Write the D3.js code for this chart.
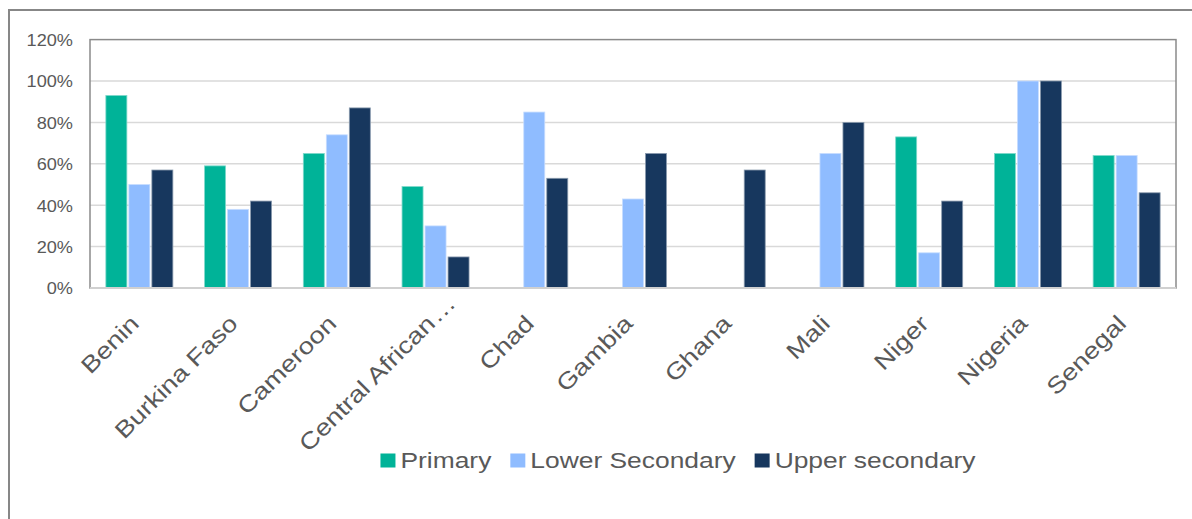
<!DOCTYPE html>
<html>
<head>
<meta charset="utf-8">
<script src="https://cdn.jsdelivr.net/npm/d3@7"></script>
<style>
  html, body { margin: 0; padding: 0; background: #ffffff; }
  svg { display: block; }
  text { font-family: "Liberation Sans", Arial, sans-serif; fill: #595959; }
</style>
</head>
<body>
<svg id="chart" width="1192" height="519"></svg>
<script>
// ---- data ----
const categories = ["Benin", "Burkina Faso", "Cameroon", "Central African…", "Chad", "Gambia", "Ghana", "Mali", "Niger", "Nigeria", "Senegal"];
const seriesNames = ["Primary", "Lower Secondary", "Upper secondary"];
const primary        = [93, 59, 65, 49, null, null, null, null, 73, 65, 64];
const lowerSecondary = [50, 38, 74, 30, 85, 43, null, 65, 17, 100, 64];
const upperSecondary = [57, 42, 87, 15, 53, 65, 57, 80, 42, 100, 46];
const yTicks = [0, 20, 40, 60, 80, 100, 120];
const colors = ["#00b398", "#8fbcff", "#17375e"];
const strokes = ["#7fd9cb", "#c7ddff", "#8b9bae"];

const seriesValues = [primary, lowerSecondary, upperSecondary];
const table = categories.map((c, i) => ({
  category: c,
  values: seriesNames.map((s, j) => ({ series: s, idx: j, value: seriesValues[j][i] }))
}));

const svg = d3.select("#chart");

// outer chart border
svg.append("rect").attr("x", 9).attr("y", 10).attr("width", 1200).attr("height", 520)
  .attr("fill", "none").attr("stroke", "#878787").attr("stroke-width", 2);

const plot = { left: 90, right: 1176, top: 39.6, bottom: 288 };

const y = d3.scaleLinear().domain([0, 120]).range([plot.bottom, plot.top]);
const x0 = d3.scaleBand().domain(categories).range([plot.left, plot.right]).padding(0);
const groupW = 67;
const x1 = d3.scaleBand().domain(seriesNames)
  .range([x0.bandwidth() / 2 - groupW / 2, x0.bandwidth() / 2 + groupW / 2])
  .paddingInner(2 / 23).paddingOuter(0);

// gridlines
svg.append("g").selectAll("line").data(yTicks.filter(t => t > 0 && t < 120)).join("line")
  .attr("x1", plot.left).attr("x2", plot.right)
  .attr("y1", d => y(d)).attr("y2", d => y(d))
  .attr("stroke", "#d9d9d9").attr("stroke-width", 1.5);

// plot frame
svg.append("rect").attr("x", plot.left).attr("y", plot.top)
  .attr("width", plot.right - plot.left).attr("height", plot.bottom - plot.top)
  .attr("fill", "none").attr("stroke", "#8a8a8a").attr("stroke-width", 1.5);

// bars
const groups = svg.append("g").selectAll("g").data(table).join("g")
  .attr("transform", d => `translate(${x0(d.category)},0)`);
groups.selectAll("rect").data(d => d.values.filter(v => v.value !== null)).join("rect")
  .attr("x", d => x1(d.series))
  .attr("width", x1.bandwidth())
  .attr("y", d => y(d.value))
  .attr("height", d => y(0) - y(d.value))
  .attr("fill", d => colors[d.idx])
  .attr("stroke", d => strokes[d.idx]).attr("stroke-width", 0.8);

// baseline
svg.append("line").attr("x1", plot.left).attr("x2", plot.right)
  .attr("y1", y(0)).attr("y2", y(0)).attr("stroke", "#d0d0d0").attr("stroke-width", 2);

// y axis labels
const yAxis = d3.axisLeft(y).tickValues(yTicks).tickFormat(d => d + "%").tickSize(0).tickPadding(0);
const yG = svg.append("g").attr("transform", "translate(73,0)").call(yAxis);
yG.select(".domain").remove();
yG.selectAll("text")
  .attr("font-size", 16.5).attr("font-family", "Liberation Sans, Arial, sans-serif")
  .attr("fill", "#595959").attr("x", 0).attr("dy", "0.36em");
yG.selectAll(".tick").each(function() {
  const t = d3.select(this);
  t.attr("transform", t.attr("transform") + " scale(1.1,1)");
});

// x axis labels (truncated labels: the ellipsis overflows past the anchor)
const xG = svg.append("g");
const xl = xG.selectAll("g").data(categories).join("g")
  .attr("transform", d => `translate(${x0(d) + x0.bandwidth() / 2 + 1},325) rotate(-45) scale(1.2,1)`);
xl.append("text")
  .attr("text-anchor", "end")
  .attr("font-size", 23)
  .attr("fill", "#595959")
  .text(d => d.endsWith("…") ? d.slice(0, -1) : d);
xl.filter(d => d.endsWith("…")).append("text")
  .attr("text-anchor", "start")
  .attr("font-size", 23)
  .attr("x", 1)
  .attr("fill", "#595959")
  .text("…");

// legend
const sx = 1.2;
const legend = svg.append("g");
const items = legend.selectAll("g").data(seriesNames).join("g");
items.append("rect").attr("width", 15).attr("height", 14).attr("y", -14.5)
  .attr("fill", (d, i) => colors[i]);
items.append("text").attr("font-size", 22)
  .attr("transform", `translate(20,0) scale(${sx},1)`)
  .text(d => d);
let cx = 0;
const positions = [];
items.each(function() {
  const t = d3.select(this).select("text").node();
  const w = 20 + t.getComputedTextLength() * sx;
  positions.push(cx);
  cx += w + 19;
});
const totalW = cx - 19;
const startX = 678 - totalW / 2;
items.attr("transform", (d, i) => `translate(${startX + positions[i]},468)`);
</script>
</body>
</html>
